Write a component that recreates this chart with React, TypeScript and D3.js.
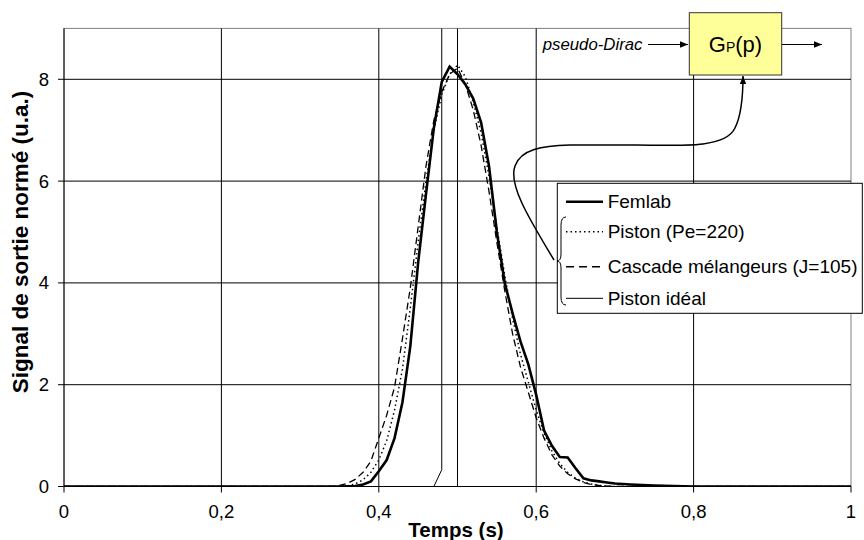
import React from "react";
import * as d3 from "d3";

// ---- data ----
const xTicks = [0, 0.2, 0.4, 0.6, 0.8, 1];
const yTicks = [0, 2, 4, 6, 8];

const femlabT = [0, 0.35, 0.37, 0.38, 0.39, 0.40, 0.41, 0.42, 0.43, 0.44, 0.45, 0.46, 0.47, 0.48, 0.49, 0.50, 0.51, 0.52, 0.53, 0.54, 0.55, 0.56, 0.57, 0.58, 0.59, 0.60, 0.61, 0.62, 0.63, 0.64, 0.65, 0.66, 0.67, 0.68, 0.69, 0.70, 0.72, 0.75, 0.80, 1];
const femlabV = [0, 0, 0.01, 0.04, 0.1, 0.3, 0.52, 0.95, 1.65, 2.75, 4.4, 5.75, 7.05, 7.95, 8.25, 8.1, 7.9, 7.62, 7.15, 6.3, 5.0, 4.0, 3.4, 2.85, 2.4, 1.8, 1.1, 0.8, 0.58, 0.57, 0.36, 0.16, 0.12, 0.1, 0.08, 0.06, 0.04, 0.02, 0, 0];

const pistonT = [0, 0.35, 0.36, 0.37, 0.38, 0.39, 0.40, 0.41, 0.42, 0.43, 0.44, 0.45, 0.46, 0.47, 0.48, 0.49, 0.50, 0.51, 0.52, 0.53, 0.54, 0.55, 0.56, 0.57, 0.58, 0.59, 0.60, 0.61, 0.62, 0.63, 0.64, 0.65, 0.66, 0.67, 0.68, 0.70, 1];
const pistonV = [0, 0, 0.01, 0.05, 0.13, 0.28, 0.52, 0.9, 1.5, 2.3, 3.5, 4.8, 6.0, 7.0, 7.7, 8.1, 8.28, 8.05, 7.55, 6.95, 6.1, 5.1, 4.15, 3.3, 2.6, 2.05, 1.5, 1.05, 0.7, 0.45, 0.28, 0.16, 0.09, 0.05, 0.02, 0, 0];

const cascadeT = [0, 0.34, 0.35, 0.36, 0.37, 0.38, 0.39, 0.40, 0.41, 0.42, 0.43, 0.44, 0.45, 0.46, 0.47, 0.48, 0.49, 0.50, 0.51, 0.52, 0.53, 0.54, 0.55, 0.56, 0.57, 0.58, 0.59, 0.60, 0.61, 0.62, 0.63, 0.64, 0.65, 0.66, 0.67, 0.68, 0.70, 1];
const cascadeV = [0, 0, 0.02, 0.06, 0.14, 0.28, 0.5, 0.95, 1.4, 1.95, 2.9, 3.9, 5.1, 6.3, 7.2, 7.75, 8.1, 8.22, 7.9, 7.4, 6.7, 5.8, 4.8, 3.85, 3.0, 2.35, 1.85, 1.35, 0.95, 0.62, 0.4, 0.25, 0.15, 0.08, 0.04, 0.02, 0, 0];

const idealT = [0, 0.47, 0.48, 0.48, 0.50, 0.50, 1];
const idealV = [0, 0, 0.33, 50, 50, 0, 0];

const legendLabels = ["Femlab", "Piston (Pe=220)", "Cascade mélangeurs (J=105)", "Piston idéal"];

const FONT = "'Liberation Sans', Arial, Helvetica, sans-serif";

export default function App() {
  const W = 864, H = 540;
  const left = 64, right = 851, top = 28.4, bottom = 486.5;
  const x = d3.scaleLinear().domain([0, 1]).range([left, right]);
  const y = d3.scaleLinear().domain([0, 9]).range([bottom, top]);
  const line = d3.line<[number, number]>().x((d) => x(d[0])).y((d) => y(d[1]));
  const zip = (t: number[], v: number[]) => t.map((ti, i) => [ti, v[i]] as [number, number]);

  const fmt = (v: number) => (v === 0 ? "0" : v === 1 ? "1" : String(v).replace(".", ","));

  const legRows = [201.7, 231.7, 266.7, 298.3];

  return (
    <svg width={W} height={H} style={{ position: "absolute", left: 0, top: 0, background: "#fff" }} fontFamily={FONT}>
      <defs>
        <clipPath id="plot">
          <rect x={left} y={top} width={right - left} height={bottom - top} />
        </clipPath>
        <marker id="arr" viewBox="0 0 10 10" refX="10" refY="5" markerWidth="8" markerHeight="8" orient="auto" markerUnits="userSpaceOnUse">
          <path d="M0,1 L10,5 L0,9 Z" fill="#000" />
        </marker>
      </defs>
      <rect x={0} y={0} width={W} height={H} fill="#fff" />
      {/* plot area border */}
      <rect x={left} y={top} width={right - left} height={bottom - top} fill="#fff" stroke="#808080" strokeWidth={1} />
      {/* grid */}
      {xTicks.filter((t) => t > 0 && t < 1).map((t) => (
        <line key={"gx" + t} x1={x(t)} x2={x(t)} y1={top} y2={bottom} stroke="#000" strokeWidth={1} />
      ))}
      {yTicks.filter((t) => t > 0).map((t) => (
        <line key={"gy" + t} x1={left} x2={right} y1={y(t)} y2={y(t)} stroke="#000" strokeWidth={1} />
      ))}
      {/* axes */}
      <line x1={left} x2={left} y1={top} y2={bottom} stroke="#000" />
      <line x1={left} x2={right} y1={bottom} y2={bottom} stroke="#000" />
      {yTicks.map((t) => (
        <g key={"ty" + t}>
          <line x1={left - 6} x2={left} y1={y(t)} y2={y(t)} stroke="#000" />
          <text x={49} y={y(t)} dy="0.35em" textAnchor="end" fontSize={18.5}>{fmt(t)}</text>
        </g>
      ))}
      {xTicks.map((t) => (
        <g key={"tx" + t}>
          <line x1={x(t)} x2={x(t)} y1={bottom} y2={bottom + 6} stroke="#000" />
          <text x={x(t)} y={517.5} textAnchor="middle" fontSize={18.5}>{fmt(t)}</text>
        </g>
      ))}
      <text x={456} y={537} textAnchor="middle" fontSize={20.5} fontWeight="bold">Temps (s)</text>
      <text transform="translate(28,242) rotate(-90)" textAnchor="middle" fontSize={22.5} fontWeight="bold">Signal de sortie normé (u.a.)</text>

      {/* series */}
      <g clipPath="url(#plot)" fill="none">
        <path d={line(zip(idealT, idealV)) || ""} stroke="#000" strokeWidth={1} />
        <path d={line(zip(cascadeT, cascadeV)) || ""} stroke="#000" strokeWidth={1.3} strokeDasharray="7,4" />
        <path d={line(zip(pistonT, pistonV)) || ""} stroke="#000" strokeWidth={1.5} strokeDasharray="1.5,3" />
        <path d={line(zip(femlabT, femlabV)) || ""} stroke="#000" strokeWidth={2.6} strokeLinejoin="miter" />
      </g>

      {/* block diagram */}
      <text x={542.7} y={50} fontSize={16.8} fontStyle="italic">pseudo-Dirac</text>
      <line x1={648} y1={44.5} x2={688} y2={44.5} stroke="#000" strokeWidth={1} markerEnd="url(#arr)" />
      <rect x={689.3} y={12.7} width={92.4} height={62.3} fill="#ffff99" stroke="#333" strokeWidth={1} />
      <text x={735.5} y={52} textAnchor="middle" fontSize={22}>
        G<tspan fontSize={14}>P</tspan>(p)
      </text>
      <line x1={782} y1={44.5} x2={822} y2={44.5} stroke="#000" strokeWidth={1} markerEnd="url(#arr)" />
      <path d="M554,260 C530,220 508,185 515,166 C521,149 542,146 570,145 L633,145 C690,146 726,147 735,128 C742,114 743,95 743,76" fill="none" stroke="#000" strokeWidth={1.5} markerEnd="url(#arr)" />

      {/* legend */}
      <rect x={557.3} y={183.3} width={305} height={130} fill="#fff" stroke="#000" strokeWidth={1} />
      <path d="M566,217 Q561,217 561,225 L561,254 Q561,261 557,261 Q561,261 561,268 L561,297 Q561,305 566,305" fill="none" stroke="#000" strokeWidth={1} />
      <line x1={566} x2={603} y1={legRows[0]} y2={legRows[0]} stroke="#000" strokeWidth={2.6} />
      <line x1={566} x2={603} y1={legRows[1]} y2={legRows[1]} stroke="#000" strokeWidth={1.5} strokeDasharray="1.5,3" />
      <line x1={566} x2={603} y1={legRows[2]} y2={legRows[2]} stroke="#000" strokeWidth={1.5} strokeDasharray="8,5" />
      <line x1={566} x2={603} y1={legRows[3]} y2={legRows[3]} stroke="#000" strokeWidth={1} />
      {legendLabels.map((l, i) => (
        <text key={l} x={607.7} y={legRows[i]} dy="0.35em" fontSize={19}>{l}</text>
      ))}
    </svg>
  );
}
